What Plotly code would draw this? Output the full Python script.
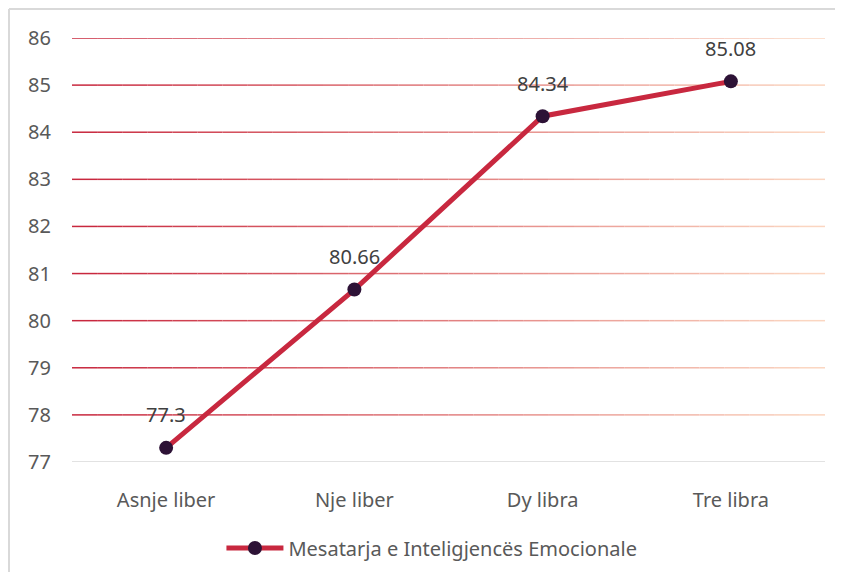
import plotly.graph_objects as go

categories = ["Asnje liber", "Nje liber", "Dy libra", "Tre libra"]
values = [77.3, 80.66, 84.34, 85.08]
value_labels = ["77.3", "80.66", "84.34", "85.08"]
series_name = "Mesatarja e Inteligjencës Emocionale"
y_ticks = [77, 78, 79, 80, 81, 82, 83, 84, 85, 86]

FONT = "Noto Sans"
TEXT = "#595959"
W, H = 827, 564
ML, MR, MT, MB = 64, 10, 30, 110
PW, PH = W - ML - MR, H - MT - MB

fig = go.Figure()
fig.add_trace(go.Scatter(
    x=categories, y=values, mode="lines+markers", name=series_name,
    line=dict(color="#C8283F", width=5),
    marker=dict(color="#2D1236", size=14),
    cliponaxis=False,
))

# gradient gridlines (red -> peach)
c0 = (200, 40, 62)
c1 = (251, 214, 193)
nseg = 30
shapes = []
for yv in y_ticks[1:]:
    for i in range(nseg):
        t = i / (nseg - 1)
        col = "rgb(%d,%d,%d)" % tuple(round(a + (b - a) * t) for a, b in zip(c0, c1))
        shapes.append(dict(type="line", xref="paper", yref="y",
                           x0=i / nseg, x1=(i + 1) / nseg, y0=yv, y1=yv,
                           line=dict(color=col, width=1.5), layer="below"))
# bottom axis line (gray)
shapes.append(dict(type="line", xref="paper", yref="y", x0=0, x1=1,
                   y0=y_ticks[0], y1=y_ticks[0],
                   line=dict(color="#D9D9D9", width=1.5), layer="below"))
# outer chart border (left and top visible)
bx = -(ML - 1) / PW
by = 1 + (MT - 1) / PH
shapes.append(dict(type="line", xref="paper", yref="paper", x0=bx, x1=bx,
                   y0=by, y1=-(MB + 5) / PH, line=dict(color="#D9D9D9", width=2)))
shapes.append(dict(type="line", xref="paper", yref="paper", x0=bx, x1=1 + (MR + 5) / PW,
                   y0=by, y1=by, line=dict(color="#D9D9D9", width=2)))

annotations = [dict(x=c, y=v, text=t, showarrow=False, yshift=33,
                    font=dict(family=FONT, size=20, color="#404040"))
               for c, v, t in zip(categories, values, value_labels)]

fig.update_layout(
    width=W, height=H,
    margin=dict(l=ML, r=MR, t=MT, b=MB, autoexpand=False),
    paper_bgcolor="white", plot_bgcolor="white",
    font=dict(family=FONT, size=20, color=TEXT),
    shapes=shapes, annotations=annotations,
    showlegend=True,
    legend=dict(orientation="h", x=0.478, xanchor="center", y=-86 / PH, yanchor="middle",
                itemwidth=57,
                font=dict(family=FONT, size=20, color=TEXT)),
    xaxis=dict(range=[-0.5, 3.5], showgrid=False, zeroline=False, automargin=False,
               showline=False, ticks="outside", ticklen=20, tickcolor="rgba(0,0,0,0)",
               tickfont=dict(family=FONT, size=20, color=TEXT)),
    yaxis=dict(range=[77, 86], tickvals=y_ticks, showgrid=False, zeroline=False,
               automargin=False,
               showline=False, ticks="outside", ticklen=16, tickcolor="rgba(0,0,0,0)",
               tickfont=dict(family=FONT, size=20, color=TEXT)),
)

fig.write_html("out.html")
